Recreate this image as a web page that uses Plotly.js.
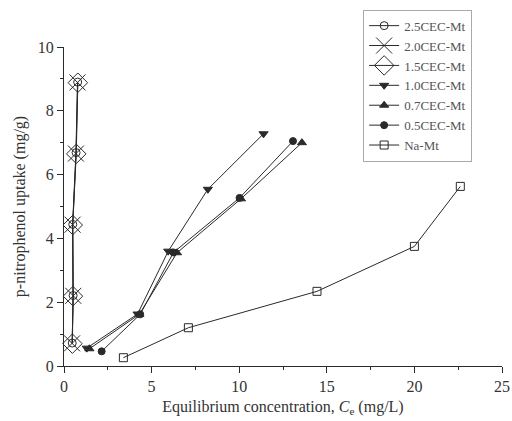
<!DOCTYPE html>
<html><head><meta charset="utf-8">
<script src="https://cdn.plot.ly/plotly-3.0.1.min.js"></script>
<style>html,body{margin:0;padding:0;background:#fff}#c{width:512px;height:421px}</style>
</head><body><div id="c"></div>
<script>
const names = ["2.5CEC-Mt","2.0CEC-Mt","1.5CEC-Mt","1.0CEC-Mt","0.7CEC-Mt","0.5CEC-Mt","Na-Mt"];
const x25 = [0.47,0.52,0.50,0.69,0.78];
const y25 = [0.72,2.21,4.44,6.69,8.90];
const x20 = [0.46,0.53,0.49,0.68,0.77];
const y20 = [0.71,2.20,4.43,6.66,8.89];
const x15 = [0.48,0.51,0.50,0.70,0.79];
const y15 = [0.70,2.19,4.42,6.65,8.88];
const x10 = [1.30,4.20,5.95,8.21,11.39];
const y10 = [0.56,1.63,3.60,5.54,7.28];
const x07 = [1.45,4.30,6.45,10.10,13.58];
const y07 = [0.54,1.62,3.55,5.24,7.00];
const x05 = [2.15,4.35,6.25,10.02,13.07];
const y05 = [0.46,1.62,3.56,5.27,7.05];
const xNa = [3.39,7.10,14.44,20.00,22.62];
const yNa = [0.26,1.20,2.34,3.75,5.63];
const xTicks = [0,5,10,15,20,25];
const yTicks = [0,2,4,6,8,10];

const lineC = "#2a2a2a";
function tr(i, x, y, sym, size, fill) {
  return {x:x, y:y, name:names[i], type:"scatter", mode:"lines+markers",
    line:{color:lineC, width:1},
    marker:{symbol:sym, size:size, color:fill, line:{color:lineC, width:1}},
    cliponaxis:false};
}
const data = [
  tr(0,x25,y25,"circle-open",8,lineC),
  tr(1,x20,y20,"x-thin-open",16,lineC),
  tr(2,x15,y15,"diamond-open",15,lineC),
  tr(3,x10,y10,"triangle-down",8,lineC),
  tr(4,x07,y07,"triangle-up",8,lineC),
  tr(5,x05,y05,"circle",7,lineC),
  tr(6,xNa,yNa,"square-open",8,lineC)
];
const fam = "Liberation Serif, Times New Roman, serif";
const layout = {
  width:512, height:421,
  margin:{l:64, r:10, t:42, b:55},
  paper_bgcolor:"#fff", plot_bgcolor:"#fff",
  font:{family:fam, color:"#333", size:15},
  showlegend:true,
  legend:{x:0.683, y:1.117, xanchor:"left", yanchor:"top",
    bordercolor:"#aaa", borderwidth:1, bgcolor:"#fff",
    font:{family:fam, size:13, color:"#555"}, tracegroupgap:0},
  xaxis:{range:[0,25], tickvals:xTicks, ticktext:xTicks.map(String),
    showgrid:false, zeroline:false, showline:true, linecolor:lineC, linewidth:1,
    ticks:"outside", ticklen:6, tickcolor:lineC,
    minor:{dtick:2.5, ticks:"outside", ticklen:3, tickcolor:lineC, showgrid:false},
    tickfont:{family:fam, size:16, color:"#333"},
    title:{text:"Equilibrium concentration, <i>C</i><sub>e</sub> (mg/L)", font:{family:fam, size:16, color:"#333"}, standoff:6}},
  yaxis:{range:[0,10], tickvals:yTicks, ticktext:yTicks.map(String),
    showgrid:false, zeroline:false, showline:true, linecolor:lineC, linewidth:1,
    ticks:"outside", ticklen:6, tickcolor:lineC,
    minor:{dtick:1, ticks:"outside", ticklen:3, tickcolor:lineC, showgrid:false},
    tickfont:{family:fam, size:16, color:"#333"},
    title:{text:"p-nitrophenol uptake (mg/g)", font:{family:fam, size:16, color:"#333"}, standoff:8}}
};
Plotly.newPlot("c", data, layout, {displayModeBar:false, staticPlot:true});
</script></body></html>
